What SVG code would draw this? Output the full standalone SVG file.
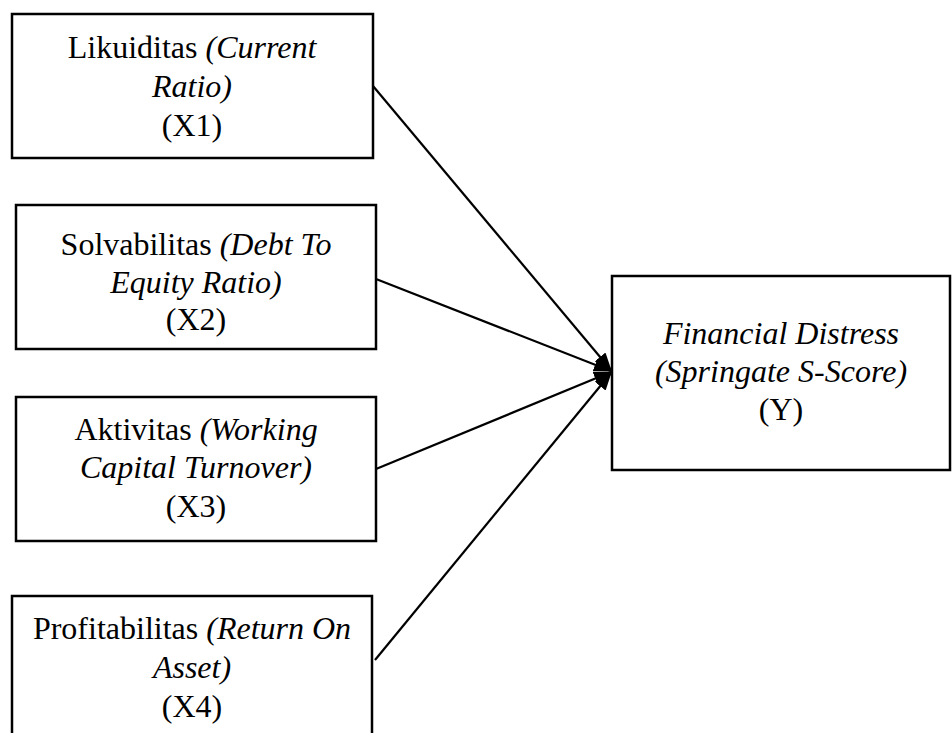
<svg xmlns="http://www.w3.org/2000/svg" width="952" height="733" viewBox="0 0 952 733">
<style>
.box{fill:#fff;stroke:#000;stroke-width:2.5}
.t{font-family:'Liberation Serif','Times New Roman',Times,serif;font-size:32px;fill:#000;text-anchor:middle}
.i{font-style:italic}
.c{stroke:#000;stroke-width:2.2;fill:none}
</style>
<defs>
<marker id="ah" viewBox="0 0 18 14" refX="17" refY="7" markerWidth="18" markerHeight="14" markerUnits="userSpaceOnUse" orient="auto">
<path d="M0,0 L18,7 L0,14 Z" fill="#000"/>
</marker>
</defs>
<rect width="952" height="733" fill="#fff"/>
<g id="connectors">
<line class="c" x1="373" y1="86" x2="611" y2="370" marker-end="url(#ah)"/>
<line class="c" x1="376" y1="279" x2="611" y2="371" marker-end="url(#ah)"/>
<line class="c" x1="376" y1="469" x2="611" y2="372" marker-end="url(#ah)"/>
<line class="c" x1="375" y1="660" x2="611" y2="373" marker-end="url(#ah)"/>
</g>
<g id="x1">
<rect class="box" x="12" y="14" width="361" height="144"/>
<text class="t" x="192" y="58">Likuiditas <tspan class="i">(Current</tspan></text>
<text class="t i" x="192" y="97">Ratio)</text>
<text class="t" x="192" y="136">(X1)</text>
</g>
<g id="x2">
<rect class="box" x="16" y="205" width="360" height="144"/>
<text class="t" x="196" y="255">Solvabilitas <tspan class="i">(Debt To</tspan></text>
<text class="t i" x="196" y="293">Equity Ratio)</text>
<text class="t" x="196" y="330">(X2)</text>
</g>
<g id="x3">
<rect class="box" x="16" y="397" width="360" height="144"/>
<text class="t" x="196" y="440">Aktivitas <tspan class="i">(Working</tspan></text>
<text class="t i" x="196" y="478">Capital Turnover)</text>
<text class="t" x="196" y="517">(X3)</text>
</g>
<g id="x4">
<rect class="box" x="12" y="596" width="360" height="150"/>
<text class="t" x="192" y="639">Profitabilitas <tspan class="i">(Return On</tspan></text>
<text class="t i" x="192" y="678">Asset)</text>
<text class="t" x="192" y="717">(X4)</text>
</g>
<g id="y">
<rect class="box" x="612" y="276" width="338" height="194"/>
<text class="t i" x="781" y="344">Financial Distress</text>
<text class="t i" x="781" y="382">(Springate S-Score)</text>
<text class="t" x="781" y="420">(Y)</text>
</g>
</svg>
